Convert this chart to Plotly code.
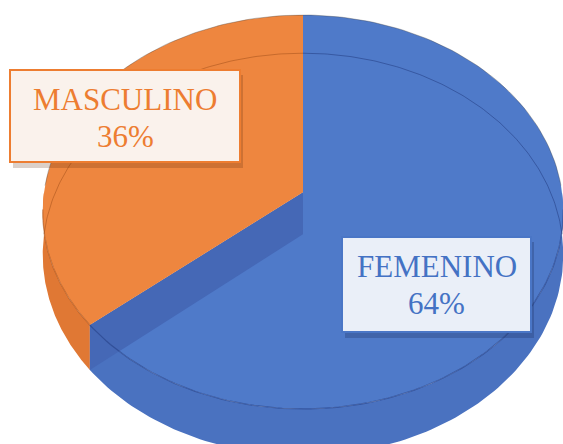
import math
import plotly.graph_objects as go

# ---- data ----
categories = ["FEMENINO", "MASCULINO"]
values = [64, 36]
pct_labels = ["64%", "36%"]

# ---- styling / geometry (layout only) ----
W, H = 563, 444
CX, CY = 303, 192.3      # centre of the top face
R, RY = 259, 195         # horizontal / vertical radius
P = 0.10                 # perspective strength
D = 42                   # thickness of the pie
top_colors = ["#4f7ac9", "#ee863f"]
side_colors = ["#4a72c0", "#e07834"]
band_color = "#4568b6"
edge_colors = ["rgba(35,60,130,0.55)", "rgba(150,70,20,0.45)"]
text_colors = ["#4472C4", "#ED7D31"]


def proj(theta, depth=0.0, r=1.0):
    t = math.radians(theta)
    f = 1.0 / (1.0 + P * r * math.cos(t))
    x = CX + R * r * math.sin(t) * f
    y = CY - RY * r * math.cos(t) * f + depth * f
    return x, y


def arc(a0, a1, depth=0.0, n=120):
    pts = []
    for i in range(n + 1):
        th = a0 + (a1 - a0) * i / n
        pts.append(proj(th, depth))
    return pts


# slice angles, clockwise from the top
total = sum(values)
angles = []
acc = 0.0
for v in values:
    a0 = acc / total * 360.0
    acc += v
    a1 = acc / total * 360.0
    angles.append((a0, a1))

fig = go.Figure()


def add_poly(pts, color, line_color=None, width=0):
    xs = [p[0] for p in pts] + [pts[0][0]]
    ys = [p[1] for p in pts] + [pts[0][1]]
    fig.add_trace(go.Scatter(
        x=xs, y=ys, mode="lines", fill="toself", fillcolor=color,
        line=dict(color=line_color or color, width=width),
        hoverinfo="skip", showlegend=False))


def add_line(pts, color, width=1.2):
    fig.add_trace(go.Scatter(
        x=[p[0] for p in pts], y=[p[1] for p in pts], mode="lines",
        line=dict(color=color, width=width),
        hoverinfo="skip", showlegend=False))


# side walls (front half only)
for i, (a0, a1) in enumerate(angles):
    s0, s1 = max(a0, 90.0), min(a1, 270.0)
    if s1 > s0:
        top = arc(s0, s1, 0)
        bot = arc(s0, s1, D)
        add_poly(top + bot[::-1], side_colors[i])

# top faces
for i, (a0, a1) in enumerate(angles):
    if i == 1:
        # cut face of the slice boundary, drawn beneath the second slice
        b = a0
        ot = proj(b, 0)
        ob = proj(b, D)
        add_poly([(CX, CY), ot, ob, (CX, CY + D)], band_color)
    pts = [(CX, CY)] + arc(a0, a1, 0)
    add_poly(pts, top_colors[i])

# edges
for i, (a0, a1) in enumerate(angles):
    s0, s1 = max(a0, 95.0), min(a1, 265.0)
    if s1 > s0:
        add_line(arc(s0, s1, 0), edge_colors[i], 1.3)
for i, (a0, a1) in enumerate(angles):
    # faint back bottom edge
    for lo, hi in ((0.0, 90.0), (270.0, 360.0)):
        s0, s1 = max(a0, lo), min(a1, hi)
        if s1 > s0:
            add_line(arc(s0, s1, D), edge_colors[i], 1.0)
# back outline
add_line(arc(-88, 88, 0), "rgba(60,60,60,0.35)", 1.0)

# ---- label boxes ----
boxes = {
    "MASCULINO": dict(x0=10, y0=70, x1=240, y1=162, fill="#faf2ec",
                      line="#ED7D31", shadow="rgba(90,40,10,0.22)"),
    "FEMENINO": dict(x0=342, y0=237, x1=531, y1=332, fill="#eaeff8",
                     line="#4a76c6", shadow="rgba(20,35,80,0.25)"),
}
shapes = []
for name, b in boxes.items():
    shapes.append(dict(type="rect", xref="x", yref="y",
                       x0=b["x0"] + 3, x1=b["x1"] + 3, y0=b["y0"] + 5, y1=b["y1"] + 6,
                       fillcolor=b["shadow"], line=dict(width=0), layer="above"))
    shapes.append(dict(type="rect", xref="x", yref="y",
                       x0=b["x0"], x1=b["x1"], y0=b["y0"], y1=b["y1"],
                       fillcolor=b["fill"], line=dict(color=b["line"], width=2),
                       layer="above"))

font_family = "Liberation Serif, Times New Roman, serif"
annotations = []
for i, name in enumerate(categories):
    b = boxes[name]
    xc = (b["x0"] + b["x1"]) / 2
    y_first = b["y0"] + 29.5
    for k, txt in enumerate([name, pct_labels[i]]):
        annotations.append(dict(
            x=xc, y=y_first + 37 * k, xref="x", yref="y", text=txt,
            showarrow=False, xanchor="center", yanchor="middle",
            font=dict(family=font_family, size=31, color=text_colors[i])))

fig.update_layout(
    width=W, height=H, margin=dict(l=0, r=0, t=0, b=0),
    paper_bgcolor="white", plot_bgcolor="white",
    xaxis=dict(range=[0, W], visible=False, fixedrange=True),
    yaxis=dict(range=[H, 0], visible=False, fixedrange=True),
    shapes=shapes, annotations=annotations, showlegend=False,
    hovermode=False,
)
fig.write_html("out.html", config={"displayModeBar": False},
               post_script="document.body.style.margin='0';document.body.style.overflow='hidden';")
